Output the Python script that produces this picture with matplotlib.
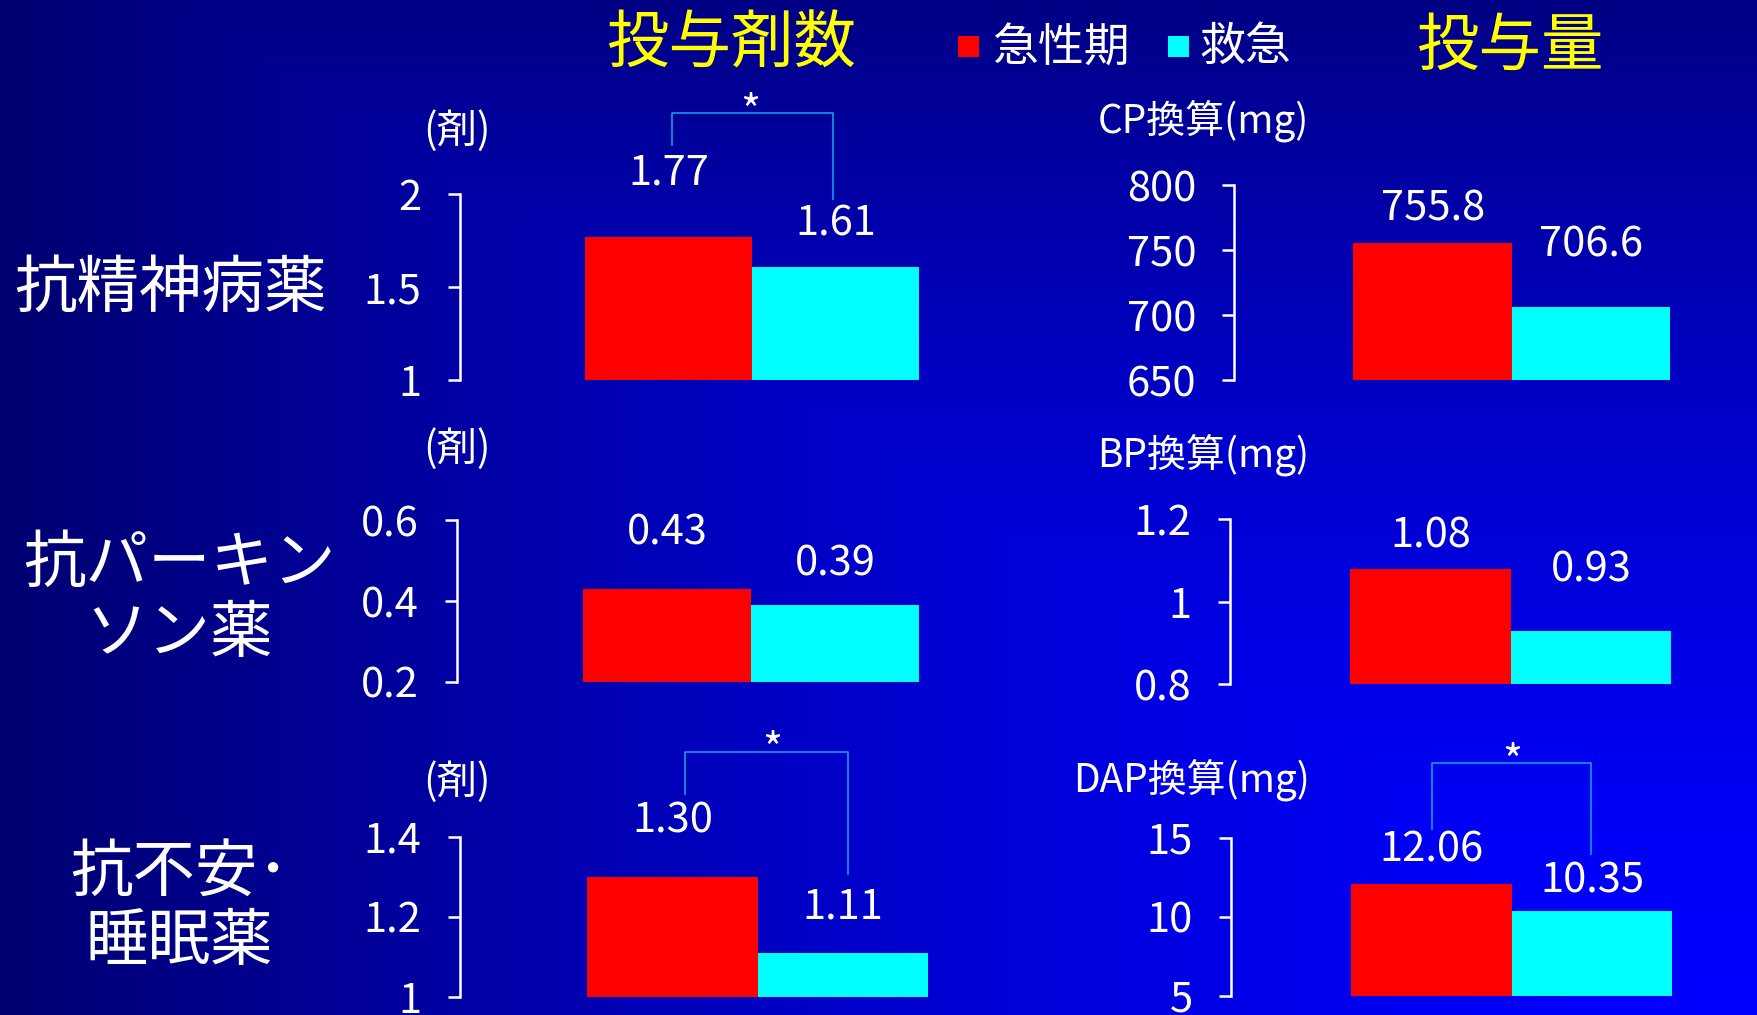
import numpy as np
import matplotlib
matplotlib.use("Agg")
import matplotlib.pyplot as plt
from matplotlib.patches import Rectangle

plt.rcParams['font.family'] = ['Noto Sans CJK JP', 'DejaVu Sans']

# ---- data -------------------------------------------------------------
groups = ["急性期", "救急"]
group_colors = ["#FF0000", "#00FFFF"]

count_antipsychotic = [1.77, 1.61]
dose_antipsychotic = [755.8, 706.6]
count_antiparkinson = [0.43, 0.39]
dose_antiparkinson = [1.08, 0.93]
count_anxiolytic = [1.30, 1.11]
dose_anxiolytic = [12.06, 10.35]

ticks_count_antipsychotic = [1, 1.5, 2]
ticks_dose_antipsychotic = [650, 700, 750, 800]
ticks_count_antiparkinson = [0.2, 0.4, 0.6]
ticks_dose_antiparkinson = [0.8, 1.0, 1.2]
ticks_count_anxiolytic = [1.0, 1.2, 1.4]
ticks_dose_anxiolytic = [5, 10, 15]

labels_count_antipsychotic = ["1", "1.5", "2"]
labels_dose_antipsychotic = ["650", "700", "750", "800"]
labels_count_antiparkinson = ["0.2", "0.4", "0.6"]
labels_dose_antiparkinson = ["0.8", "1", "1.2"]
labels_count_anxiolytic = ["1", "1.2", "1.4"]
labels_dose_anxiolytic = ["5", "10", "15"]

row_titles = [["抗精神病薬"], ["抗パーキン", "ソン薬"], ["抗不安･", "睡眠薬"]]
column_titles = ["投与剤数", "投与量"]
count_unit = "(剤)"
dose_units = ["CP換算(mg)", "BP換算(mg)", "DAP換算(mg)"]

# ---- layout helpers ---------------------------------------------------
FIG_W, FIG_H = 1758, 1015
GRID_W, GRID_H = 1568.0, 905.0   # layout grid units


def fx(x):
    return x / GRID_W


def fy(y):
    return 1.0 - y / GRID_H


fig = plt.figure(figsize=(FIG_W / 100, FIG_H / 100), dpi=100)

# blue gradient background, brightest toward the lower right
bg = fig.add_axes([0, 0, 1, 1], zorder=-10)
ny, nx = 203, 352
u = 1.0 - np.linspace(0, 1, nx)[None, :]
v = 1.0 - np.linspace(0, 1, ny)[:, None]
t = np.maximum(u, 0.9 * v)
blue = np.clip(255 - 143 * t ** 1.5, 112, 255) / 255.0
img = np.zeros((ny, nx, 3))
img[..., 2] = blue
bg.imshow(img, extent=[0, 1, 0, 1], aspect='auto', interpolation='bilinear')
bg.set_axis_off()

WHITE = "white"
SIG_COLOR = "#14A8E8"

panels = [
    dict(values=count_antipsychotic, ylim=(1, 2), ticks=ticks_count_antipsychotic,
         labels=labels_count_antipsychotic, fmt="{:.2f}", rect=(410, 173, 339, 425),
         offsets=(64, 43)),
    dict(values=dose_antipsychotic, ylim=(650, 800), ticks=ticks_dose_antipsychotic,
         labels=labels_dose_antipsychotic, fmt="{:.1f}", rect=(1101, 165, 339, 403),
         offsets=(34, 62)),
    dict(values=count_antiparkinson, ylim=(0.2, 0.6), ticks=ticks_count_antiparkinson,
         labels=labels_count_antiparkinson, fmt="{:.2f}", rect=(408, 464, 608, 427),
         offsets=(56, 41)),
    dict(values=dose_antiparkinson, ylim=(0.8, 1.2), ticks=ticks_dose_antiparkinson,
         labels=labels_dose_antiparkinson, fmt="{:.2f}", rect=(1097, 463, 610, 408),
         offsets=(33, 61)),
    dict(values=count_anxiolytic, ylim=(1.0, 1.4), ticks=ticks_count_anxiolytic,
         labels=labels_count_anxiolytic, fmt="{:.2f}", rect=(410, 746, 889, 433),
         offsets=(56, 46)),
    dict(values=dose_anxiolytic, ylim=(5, 15), ticks=ticks_dose_anxiolytic,
         labels=labels_dose_anxiolytic, fmt="{:.2f}", rect=(1098, 747, 888, 408),
         offsets=(34, 30)),
]

axes = []
for p in panels:
    left, top, bottom, width = p["rect"]
    ax = fig.add_axes([fx(left), fy(bottom), width / GRID_W, (bottom - top) / GRID_H])
    ax.patch.set_alpha(0)
    lo, hi = p["ylim"]
    ax.set_xlim(-1.25, 1.6)
    ax.set_ylim(lo, hi)
    x = np.arange(len(groups))
    ax.bar(x, [val - lo for val in p["values"]], bottom=lo, width=1.0,
           color=group_colors, linewidth=0)
    for s in ("top", "right", "bottom"):
        ax.spines[s].set_visible(False)
    ax.spines["left"].set_color(WHITE)
    ax.spines["left"].set_linewidth(1.8)
    ax.set_xticks([])
    ax.set_yticks(p["ticks"])
    ax.set_yticklabels(p["labels"])
    ax.tick_params(axis="y", colors=WHITE, length=8.6, width=1.8, pad=19,
                   labelsize=30, direction="out")
    for i, (val, off) in enumerate(zip(p["values"], p["offsets"])):
        ax.annotate(p["fmt"].format(val), (i, val), xytext=(0, off),
                    textcoords="offset pixels", ha="center", va="center",
                    color=WHITE, fontsize=30, annotation_clip=False)
    axes.append(ax)

# significance brackets: (panel, left x, right x, left foot, top, right foot, star x, star y)
sig_marks = [
    (0, 0.02, 0.98, 2.259, 2.434, 1.970, 0.49, 2.512),
    (4, 0.07, 1.03, 1.503, 1.610, 1.305, 0.585, 1.649),
    (5, 0.00, 0.99, 15.50, 19.75, 13.94, 0.50, 20.6),
]
for idx, xl, xr, yl, ytop, yr, xs, ys in sig_marks:
    ax = axes[idx]
    ax.plot([xl, xl, xr, xr], [yl, ytop, ytop, yr], color=SIG_COLOR, lw=1.1,
            clip_on=False, solid_capstyle="butt")
    # the asterisk glyph sits high in its em box, so nudge it down
    ax.annotate("*", (xs, ys), xytext=(0, -15), textcoords="offset pixels",
                ha="center", va="center", color=WHITE, fontsize=31,
                annotation_clip=False)

# axis unit labels
for y in (117, 400, 697):
    fig.text(fx(408), fy(y), count_unit, ha="center", va="center", color=WHITE, fontsize=29)
for label, y in zip(dose_units, (108, 405, 695)):
    fig.text(fx(1168), fy(y), label, ha="right", va="center", color=WHITE, fontsize=28)

# row titles
row_positions = [(152, [258]), (160, [503, 565]), (160, [778, 840])]
for lines, (xc, ys) in zip(row_titles, row_positions):
    for line, y in zip(lines, ys):
        fig.text(fx(xc), fy(y), line, ha="center", va="center", color=WHITE, fontsize=45)

# column titles
fig.text(fx(652), fy(40), column_titles[0], ha="center", va="center", color="#FFFF00", fontsize=45)
fig.text(fx(1347), fy(42), column_titles[1], ha="center", va="center", color="#FFFF00", fontsize=45)

# legend
sq_w = 18.7 / GRID_W
sq_h = 18.7 / GRID_H
for name, color, xsq, xt in zip(groups, group_colors, (864, 1051), (885, 1070)):
    fig.patches.append(Rectangle((fx(xsq) - sq_w / 2, fy(41.5) - sq_h / 2), sq_w, sq_h,
                                 transform=fig.transFigure, facecolor=color,
                                 edgecolor="none"))
    fig.text(fx(xt), fy(42), name, ha="left", va="center", color=WHITE, fontsize=33)

fig.savefig("out.png", dpi=100)
